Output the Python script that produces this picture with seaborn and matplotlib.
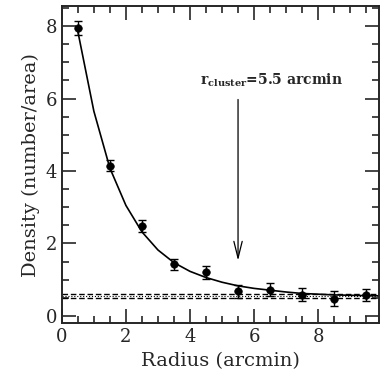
import numpy as np
import pandas as pd
import matplotlib
matplotlib.use("Agg")
import matplotlib.pyplot as plt
import seaborn as sns
from matplotlib.ticker import MultipleLocator

# measured radial density profile
radius = [0.5, 1.5, 2.5, 3.5, 4.5, 5.5, 6.5, 7.5, 8.5, 9.5]
density = [7.95, 4.15, 2.48, 1.42, 1.20, 0.68, 0.72, 0.58, 0.48, 0.58]
density_err = [0.20, 0.15, 0.16, 0.15, 0.17, 0.18, 0.18, 0.18, 0.20, 0.17]

# fitted profile
fit_r = [0.5, 1.0, 1.5, 2.0, 2.5, 3.0, 3.5, 4.0, 4.5, 5.0, 5.5, 6.0, 6.5, 7.0, 7.5, 8.0, 8.5, 9.0, 9.5, 9.9]
fit_d = [7.85, 5.65, 4.08, 3.05, 2.32, 1.82, 1.47, 1.23, 1.06, 0.93, 0.83, 0.76, 0.71, 0.66, 0.62, 0.60, 0.58, 0.57, 0.56, 0.555]

# background level and its band
bg_level = 0.55
bg_lo, bg_hi = 0.50, 0.60

r_cluster = 5.5

sns.set_style("ticks")
plt.rcParams['font.family'] = ['DejaVu Serif']
plt.rcParams['mathtext.fontset'] = 'dejavuserif'

fig = plt.figure(figsize=(3.84, 3.82), dpi=100)
ax = fig.add_axes([0.161, 0.154, 0.826, 0.830])

fit_df = pd.DataFrame({"r": fit_r, "d": fit_d})
sns.lineplot(data=fit_df, x="r", y="d", color="black", lw=1.2, ax=ax)

ax.errorbar(radius, density, yerr=density_err, fmt="none", ecolor="black",
            elinewidth=1.0, capsize=3, capthick=1.0)
sns.scatterplot(x=radius, y=density, color="black", s=30, edgecolor="black", ax=ax, zorder=3)

ax.axhline(bg_hi, color="black", ls=(0, (4, 2)), lw=1.0)
ax.axhline(bg_lo, color="black", ls=(0, (4, 2)), lw=1.0)
ax.axhline(bg_level, color="black", ls=":", lw=0.8)

ax.annotate("", xy=(r_cluster, 1.45), xytext=(r_cluster, 6.05),
            arrowprops=dict(arrowstyle="->,head_length=1.2,head_width=0.3", color="black", lw=0.9))
ax.text(4.3, 6.5, r"r$_{\mathbf{cluster}}$=5.5 arcmin", fontsize=10, va="center", ha="left",
        fontweight="bold")

ax.set_xlim(0, 9.9)
ax.set_ylim(-0.2, 8.55)
ax.xaxis.set_major_locator(MultipleLocator(2))
ax.xaxis.set_minor_locator(MultipleLocator(0.5))
ax.yaxis.set_major_locator(MultipleLocator(2))
ax.yaxis.set_minor_locator(MultipleLocator(0.5))
ax.tick_params(which="both", direction="in", top=True, right=True, labelsize=13, width=1.2)
ax.tick_params(which="major", length=10)
ax.tick_params(which="minor", length=5)
for s in ax.spines.values():
    s.set_linewidth(1.4)

ax.set_xlabel("Radius (arcmin)", fontsize=14)
ax.set_ylabel("Density (number/area)", fontsize=14)

fig.savefig("out.png", dpi=100)
